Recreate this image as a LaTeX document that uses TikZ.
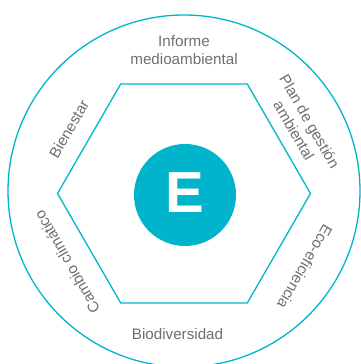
\documentclass[tikz,border=0pt]{standalone}
\usepackage{fontspec}
\setmainfont{Liberation Sans}
\usetikzlibrary{shapes.geometric}
\definecolor{ecocyan}{HTML}{00B4CC}
\definecolor{ecogray}{HTML}{6D6E71}
\tikzset{
  ring/.style={draw=ecocyan, line width=1.3pt},
  lbl/.style={text=ecogray, font=\fontsize{15.2}{18}\selectfont, inner sep=0pt, align=center}
}
\begin{document}
\begin{tikzpicture}[x=1pt,y=1pt]
\useasboundingbox (0,0) rectangle (360,364);
\node[ring, circle, minimum size=352pt, inner sep=0pt, outer sep=0pt] (outer) at (184,173) {};
\node[ring, regular polygon, regular polygon sides=6, minimum size=253pt, inner sep=0pt, outer sep=0pt] (hex) at (184,170.5) {};
\node[circle, fill=ecocyan, minimum size=102pt, inner sep=0pt] (core) at (185,169) {};
\node[text=white, font=\fontsize{58}{60}\selectfont\bfseries, inner sep=0pt] (E) at (185,171) {E};
\node[lbl] (informe) at (184,314) {Informe\\medioambiental};
\node[lbl] (bio) at (177.5,29.5) {Biodiversidad};
\node[lbl, rotate=60] (bien) at (69,235) {Bienestar};
\node[lbl, rotate=-60] (plan) at (302,238) {Plan de gestión\\ambiental};
\node[lbl, rotate=-120] (eco) at (305,97) {Eco-eficiencia};
\node[lbl, rotate=120] (cambio) at (67,102) {Cambio climático};
\end{tikzpicture}
\end{document}
